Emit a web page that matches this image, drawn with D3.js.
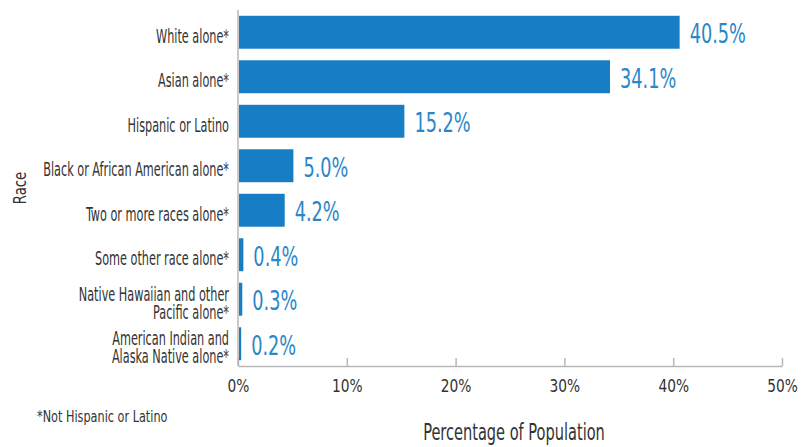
<!DOCTYPE html>
<html>
<head>
<meta charset="utf-8">
<script src="https://cdn.jsdelivr.net/npm/d3@7"></script>
<style>
  body { margin: 0; background: #fff; }
  text { font-family: 'Liberation Sans Narrow', 'DejaVu Sans Condensed', sans-serif; }
</style>
</head>
<body>
<div id="chart"></div>
<script>
// chart values
const categories = [
  'White alone*',
  'Asian alone*',
  'Hispanic or Latino',
  'Black or African American alone*',
  'Two or more races alone*',
  'Some other race alone*',
  'Native Hawaiian and other\nPacific alone*',
  'American Indian and\nAlaska Native alone*'
];
const values = [40.5, 34.1, 15.2, 5.0, 4.2, 0.4, 0.3, 0.2];
const xTicks = [0, 10, 20, 30, 40, 50];

const width = 807;
const height = 447;
const margin = { top: 10, right: 24, bottom: 81, left: 238 };

const barColor = '#177dc4';
const labelColor = '#2b86c8';
const textColor = '#333';
const axisColor = '#b8b8b8';

const rows = categories.map((c, i) => ({ category: c, value: values[i] }));

const svg = d3
  .select('#chart')
  .append('svg')
  .attr('width', width)
  .attr('height', height);

const xScale = d3
  .scaleLinear()
  .domain([0, 50])
  .range([margin.left, width - margin.right - 1]);

const yScale = d3
  .scaleBand()
  .domain(categories)
  .range([margin.top, height - margin.bottom])
  .paddingInner(0.26)
  .paddingOuter(0.13);

// x axis, ticks pointing up
const xAxis = svg
  .append('g')
  .attr('transform', `translate(0, ${height - margin.bottom})`)
  .call(
    d3.axisTop(xScale)
      .tickValues(xTicks)
      .tickSize(8)
      .tickSizeOuter(0)
      .tickFormat((d) => d + '%')
  );
xAxis.select('.domain').attr('stroke', axisColor).attr('stroke-width', 1.5);
xAxis.selectAll('.tick line').attr('stroke', axisColor).attr('stroke-width', 1.5);
xAxis.selectAll('.tick text')
  .attr('y', 0)
  .attr('dy', 0)
  .attr('transform', 'translate(0, 26) scale(0.9, 1)')
  .attr('fill', textColor)
  .style('font-size', '17px');

// y axis
const yAxis = svg
  .append('g')
  .attr('transform', `translate(${margin.left}, 0)`)
  .call(d3.axisLeft(yScale).tickSize(0).tickSizeOuter(0));
yAxis.select('.domain')
  .attr('d', `M0,${margin.top}V${height - margin.bottom}`)
  .attr('stroke', axisColor)
  .attr('stroke-width', 1.5);

yAxis.selectAll('.tick text').each(function (d) {
  const t = d3.select(this);
  const lines = d.split('\n');
  const lh = 17.7;
  t.text(null)
    .attr('x', 0)
    .attr('dy', null)
    .attr('fill', textColor)
    .attr('transform', 'translate(-9, 0) scale(0.66, 1)')
    .style('font-size', '19px');
  lines.forEach((line, i) => {
    t.append('tspan')
      .attr('x', 0)
      .attr('y', (i - (lines.length - 1) / 2) * lh + 10.5)
      .text(line);
  });
});

// bars
svg
  .append('g')
  .selectAll('rect')
  .data(rows)
  .join('rect')
  .attr('x', xScale(0) + 1)
  .attr('y', (d) => yScale(d.category))
  .attr('width', (d) => xScale(d.value) - xScale(0))
  .attr('height', yScale.bandwidth())
  .attr('fill', barColor);

// value labels
svg
  .append('g')
  .selectAll('text')
  .data(rows)
  .join('text')
  .attr('transform', (d) =>
    `translate(${xScale(d.value) + 11}, ${yScale(d.category) + yScale.bandwidth() / 2 + 11}) scale(0.73, 1)`)
  .attr('fill', labelColor)
  .style('font-size', '27px')
  .text((d) => d.value.toFixed(1) + '%');

// axis titles
svg.append('text')
  .attr('transform', `translate(${(xScale(0) + xScale(50)) / 2 + 4}, 440) scale(0.705, 1)`)
  .attr('text-anchor', 'middle')
  .attr('fill', textColor)
  .style('font-size', '23px')
  .text('Percentage of Population');

svg.append('text')
  .attr('transform', `translate(26, ${(margin.top + height - margin.bottom) / 2}) rotate(-90) scale(0.82, 1)`)
  .attr('text-anchor', 'middle')
  .attr('fill', textColor)
  .style('font-size', '18px')
  .text('Race');

// footnote
svg.append('text')
  .attr('transform', 'translate(37, 422) scale(0.76, 1)')
  .attr('fill', textColor)
  .style('font-size', '16.5px')
  .text('*Not Hispanic or Latino');
</script>
</body>
</html>
